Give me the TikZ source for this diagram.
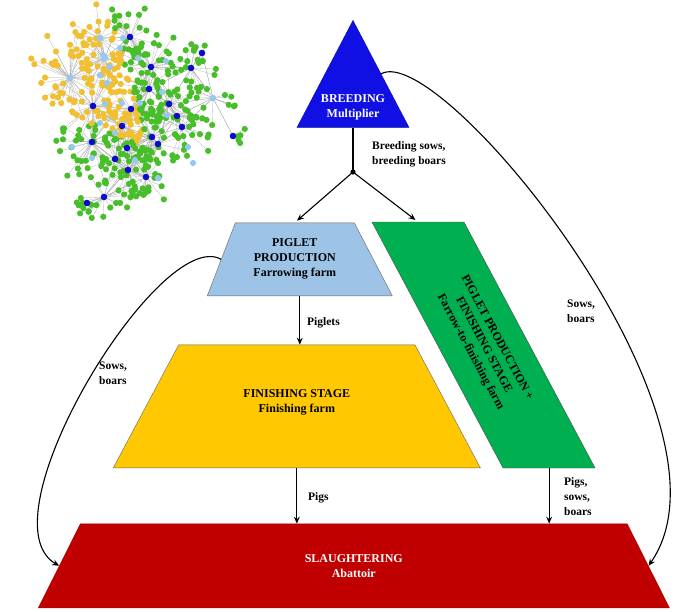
\documentclass[tikz,border=0pt]{standalone}
\usepackage{fontspec}
\setmainfont{Liberation Serif}
\usetikzlibrary{shapes.geometric,arrows.meta,positioning,calc}

\definecolor{breedblue}{RGB}{16,16,228}
\definecolor{pigletblue}{RGB}{157,195,230}
\definecolor{finishyellow}{RGB}{255,200,0}
\definecolor{mixedgreen}{RGB}{0,176,80}
\definecolor{slaughterred}{RGB}{192,0,0}
\definecolor{netgreen}{RGB}{72,190,42}
\definecolor{netyellow}{RGB}{240,192,50}
\definecolor{netblue}{RGB}{12,12,200}
\definecolor{netlight}{RGB}{150,200,240}

\tikzset{
  stage/.style={trapezium, trapezium stretches body, draw=black!60, line width=0.4pt,
    inner sep=0pt, text depth=0pt},
  stagetext/.style={align=center, inner sep=0pt, font=\fontsize{12}{15}\selectfont\bfseries},
  flowlabel/.style={anchor=north west, align=left, inner sep=0pt,
    font=\fontsize{11.5}{15}\selectfont\bfseries},
  link/.style={->, line width=1.1pt},
  netedge/.style={draw=black!30, line width=0.3pt},
}

%% star centres of the network: x/y/leaves/spread/colour
\def\hublist{130/37/28/34/netblue, 202/53/6/16/netblue, 191/68/13/28/netblue,
  151/67/30/38/netblue, 93/106/30/44/netblue, 149/89/22/34/netblue,
  169/104/18/34/netblue, 177/116/15/30/netblue, 182/127/18/36/netblue,
  233/136/5/14/netblue, 122/126/20/34/netblue, 92/142/30/44/netblue,
  152/137/18/34/netblue, 158/144/15/30/netblue, 127/148/18/30/netblue,
  115/159/15/30/netblue, 128/170/28/40/netblue, 146/177/13/30/netblue,
  104/197/20/34/netblue, 87/203/3/10/netblue, 131/109/18/30/netblue,
  70/78/40/48/netlight, 105/58/30/40/netlight, 100/38/15/34/netlight,
  213/98/10/28/netlight}

%% one leaf of a star: sets \lx, \ly and \isyellow
\newcommand\netleaf[3]{%
  \pgfmathsetmacro\ang{360*rnd}%
  \pgfmathsetmacro\rad{#3*(0.35+0.65*rnd)}%
  \pgfmathsetmacro\lx{#1+\rad*cos(\ang)}%
  \pgfmathsetmacro\ly{#2+\rad*sin(\ang)}%
  \pgfmathtruncatemacro\isyellow{(\lx<105+0.3*\ly)&&(\ly<82+0.45*\lx)}%
}

\begin{document}
\begin{tikzpicture}[x=1pt, y=-1pt, >={Stealth[length=7pt,width=6pt,inset=2.5pt]}]
\useasboundingbox (0,0) rectangle (675,611);

%% Network inset
\foreach \ax/\ay/\an/\ar/\ac in \hublist {
  \foreach \bx/\by/\bn/\br/\bc in \hublist {
    \pgfmathtruncatemacro\near{veclen(\bx-\ax,\by-\ay)<48}
    \ifnum\near=1 \draw[netedge] (\ax,\ay) -- (\bx,\by); \fi
  }
}
\pgfmathsetseed{11}
\foreach \hx/\hy/\hn/\hr/\hc in \hublist
  \foreach \k in {1,...,\hn} {
    \netleaf{\hx}{\hy}{\hr}
    \draw[netedge] (\hx,\hy) -- (\lx,\ly);
  }
\pgfmathsetseed{11}
\foreach \hx/\hy/\hn/\hr/\hc in \hublist
  \foreach \k in {1,...,\hn} {
    \netleaf{\hx}{\hy}{\hr}
    \ifnum\isyellow=1 \fill[netyellow] (\lx,\ly) circle (3.1);
    \else \fill[netgreen] (\lx,\ly) circle (3.1); \fi
  }
\foreach \px/\py in {123/38, 103/55, 110/67, 100/75, 107/83, 138/58, 166/61,
  120/48, 122/103, 105/104, 100/123, 115/133, 90/143, 72/147, 92/158,
  140/103, 162/92, 167/115, 188/147, 193/163, 158/178, 135/160}
  \fill[netlight] (\px,\py) circle (3.1);
\foreach \hx/\hy/\hn/\hr/\hc in \hublist
  \fill[\hc] (\hx,\hy) circle (3.3);

%% Stages
\node[isosceles triangle, isosceles triangle apex angle=55, isosceles triangle stretches,
  shape border rotate=90, minimum width=112pt, minimum height=107pt, inner sep=0pt,
  fill=breedblue, draw=breedblue!70!black, line width=0.4pt, anchor=apex] (breed) at (353,20) {};
\node[stagetext, text=white] (breedtext) at (353,107) {BREEDING\\Multiplier};

\node[stage, fill=pigletblue, trapezium left angle=69, trapezium right angle=62.5,
  text height=73pt, minimum width=185pt, anchor=bottom left corner] (piglet) at (207,296) {};
\node[stagetext] (piglettext) at (piglet.center) {PIGLET\\PRODUCTION\\Farrowing farm};

\node[stage, fill=finishyellow, trapezium angle=62, text height=123pt, minimum width=367pt,
  anchor=bottom left corner] (finish) at (113,468) {};
\node[stagetext, yshift=4pt] (finishtext) at (finish.center) {FINISHING STAGE\\Finishing farm};

\node[fill=mixedgreen, draw=black!70, line width=0.4pt, minimum width=92pt, minimum height=246pt,
  inner sep=0pt, xslant=-0.533, transform shape] (mixed) at (483.5,345) {};
\node[stagetext, rotate=-61.8] (mixedtext) at (mixed.center)
  {PIGLET PRODUCTION +\\FINISHING STAGE\\Farrow-to-finishing farm};

\node[stage, fill=slaughterred, draw=slaughterred!85!black, trapezium angle=63.4,
  text height=84pt, minimum width=631pt, anchor=bottom left corner] (slaughter) at (38,608) {};
\node[stagetext, text=white] (slaughtertext) at (slaughter.center) {SLAUGHTERING\\Abattoir};

%% Flows
\coordinate (split) at (353,172);
\draw[line width=1.1pt] (breed.lower side) -- (split);
\fill (split) circle (2.6);
\draw[link, shorten >=3pt] (split) -- (piglet.top side);
\draw[link, shorten >=3pt] (split) -- (mixed.north);
\draw[link] (piglet.bottom side) -- (piglet.bottom side |- finish.top side);
\draw[link] (finish.bottom side) -- (finish.bottom side |- slaughter.top side);
\draw[link] (mixed.south) -- (mixed.south |- slaughter.top side);
\draw[link] (piglet.west) .. controls (160,225) and (-20,520) .. (slaughter.west);
\draw[link] (breed.right side) .. controls (440,40) and (750,420) .. (slaughter.east);

%% Labels
\node[flowlabel] (breedlabel) at (372,141) {Breeding sows,\\breeding boars};
\node[flowlabel] (pigletlabel) at (307,317) {Piglets};
\node[flowlabel] (leftlabel) at (99,362) {Sows,\\boars};
\node[flowlabel] (rightlabel) at (567,300) {Sows,\\boars};
\node[flowlabel] (pigslabel) at (308,492) {Pigs};
\node[flowlabel] (mixedlabel) at (564,477) {Pigs,\\sows,\\boars};

\end{tikzpicture}
\end{document}
